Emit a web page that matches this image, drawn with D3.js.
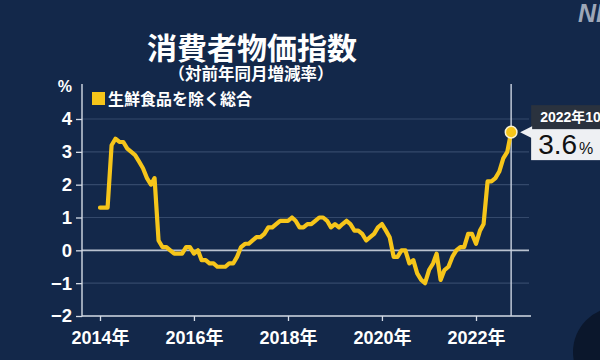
<!DOCTYPE html>
<html><head><meta charset="utf-8">
<script src="https://cdn.jsdelivr.net/npm/d3@7"></script>
<style>
html,body{margin:0;padding:0;background:#13284a;}
svg{display:block;}
text{font-family:"Liberation Sans","Noto Sans CJK JP",sans-serif;}
</style></head>
<body>
<svg id="c" width="600" height="360"></svg>
<script>
const startYear = 2014, startMonth = 1;
const values = [
 1.3,1.3,1.3,3.2,3.4,3.3,3.3,3.1,3.0,2.9,2.7,2.5,
 2.2,2.0,2.2,0.3,0.1,0.1,0.0,-0.1,-0.1,-0.1,0.1,0.1,
 -0.1,0.0,-0.3,-0.3,-0.4,-0.4,-0.5,-0.5,-0.5,-0.4,-0.4,-0.2,
 0.1,0.2,0.2,0.3,0.4,0.4,0.5,0.7,0.7,0.8,0.9,0.9,
 0.9,1.0,0.9,0.7,0.7,0.8,0.8,0.9,1.0,1.0,0.9,0.7,
 0.8,0.7,0.8,0.9,0.8,0.6,0.6,0.5,0.3,0.4,0.5,0.7,
 0.8,0.6,0.4,-0.2,-0.2,0.0,0.0,-0.4,-0.3,-0.7,-0.9,-1.0,
 -0.6,-0.4,-0.1,-0.9,-0.6,-0.5,-0.2,0.0,0.1,0.1,0.5,0.5,
 0.2,0.6,0.8,2.1,2.1,2.2,2.4,2.8,3.0,3.6
];
const yTicks = [-2,-1,0,1,2,3,4];
const xTickYears = [2014,2016,2018,2020,2022];
const titleText = "消費者物価指数";
const subtitleText = "（対前年同月増減率）";
const legendText = "生鮮食品を除く総合";
const calloutDate = "2022年10月";
const calloutValue = "3.6";

const data = values.map((v,i)=>({date:new Date(startYear, startMonth-1+i, 1), v}));
const svg = d3.select("#c");
const W=600,H=360;
svg.append("rect").attr("width",W).attr("height",H).attr("fill","#13284a");
// decorative corner circle
svg.append("circle").attr("cx",618).attr("cy",352).attr("r",45).attr("fill","#0b172c");
svg.append("text").attr("x",578).attr("y",22).attr("font-size",25).attr("font-weight","bold")
  .attr("font-style","italic").attr("fill","#9ea7b8").text("NHK");

const x = d3.scaleTime().domain([new Date(2014,0,1), new Date(2022,0,1)]).range([100,476]);
const y = d3.scaleLinear().domain([-2,4]).range([316,119]);
const left=82, right=529;

// grid
svg.append("g").selectAll("line").data(yTicks.filter(d=>d!==-2)).join("line")
  .attr("x1",left).attr("x2",right).attr("y1",d=>y(d)).attr("y2",d=>y(d))
  .attr("stroke",d=>d===0?"#b9c2cf":"#34496b").attr("stroke-width",d=>d===0?1.6:1.2);

// y axis
const yAxis = d3.axisLeft(y).tickValues(yTicks).tickSize(6).tickPadding(4).tickFormat(d3.format("d"));
const gy = svg.append("g").attr("transform",`translate(${left},0)`).call(yAxis);
gy.select(".domain").remove();
gy.selectAll(".tick line").attr("stroke","#d4dbe6").attr("stroke-width",1.3);
gy.selectAll(".tick text").attr("fill","#ffffff").attr("font-size",18.5).attr("font-weight","bold")
  .attr("font-family",'"Liberation Sans",sans-serif');
svg.append("line").attr("x1",left).attr("x2",left).attr("y1",84).attr("y2",316.5)
  .attr("stroke","#d4dbe6").attr("stroke-width",1.4);

// x axis
const xAxis = d3.axisBottom(x).tickValues(xTickYears.map(yr=>new Date(yr,0,1))).tickSize(5).tickPadding(10)
  .tickFormat(d=>d.getFullYear()+"年");
const gx = svg.append("g").attr("transform",`translate(0,${y(-2)})`).call(xAxis);
gx.select(".domain").remove();
gx.selectAll(".tick line").attr("stroke","#d4dbe6").attr("stroke-width",1.3);
gx.selectAll(".tick text").attr("fill","#ffffff").attr("font-size",18).attr("font-weight","bold")
  .attr("font-family",'"Liberation Sans","Noto Sans CJK JP",sans-serif');
svg.append("line").attr("x1",left).attr("x2",531).attr("y1",y(-2)).attr("y2",y(-2))
  .attr("stroke","#d4dbe6").attr("stroke-width",1.5);

// vertical marker line
const last = data[data.length-1];
svg.append("line").attr("x1",x(last.date)).attr("x2",x(last.date)).attr("y1",84).attr("y2",y(-2))
  .attr("stroke","#c9d1e0").attr("stroke-width",1.4);

// line
const line = d3.line().x(d=>x(d.date)).y(d=>y(d.v)).curve(d3.curveLinear);
svg.append("path").datum(data).attr("d",line).attr("fill","none")
  .attr("stroke","#f6c51a").attr("stroke-width",4.2).attr("stroke-linejoin","round").attr("stroke-linecap","round");

// point
svg.append("circle").attr("cx",x(last.date)).attr("cy",y(last.v)).attr("r",5.8)
  .attr("fill","#f6c51a").attr("stroke","#fbf3d0").attr("stroke-width",1.5);

// callout
const px=x(last.date), py=y(last.v);
svg.append("rect").attr("x",px+20).attr("y",py-27).attr("width",80).attr("height",24).attr("fill","#2a323e");
svg.append("text").attr("x",px+29).attr("y",py-10).attr("font-size",14).attr("font-weight","bold")
  .attr("fill","#ffffff").text(calloutDate);
svg.append("rect").attr("x",px+20).attr("y",py-3).attr("width",80).attr("height",31).attr("fill","#eef0f3");
svg.append("path").attr("d",`M${px+9},${py} L${px+21},${py-6} L${px+21},${py+6} Z`).attr("fill","#eef0f3");
const vt = svg.append("text").attr("x",px+27).attr("y",py+22).attr("fill","#111").attr("font-family",'"Liberation Sans",sans-serif');
vt.append("tspan").attr("font-size",28).text(calloutValue);
vt.append("tspan").attr("font-size",16).attr("dx",2).text("%");

// titles
svg.append("text").attr("x",252).attr("y",59).attr("text-anchor","middle").attr("font-size",30)
  .attr("font-weight","bold").attr("fill","#ffffff").text(titleText);
svg.append("text").attr("x",251).attr("y",80).attr("text-anchor","middle").attr("font-size",16.5)
  .attr("font-weight","bold").attr("fill","#ffffff").text(subtitleText);
svg.append("text").attr("x",72).attr("y",92).attr("text-anchor","end").attr("font-size",16)
  .attr("font-weight","bold").attr("fill","#ffffff").text("%");

// legend
svg.append("rect").attr("x",92).attr("y",92).attr("width",13).attr("height",13).attr("fill","#f6c51a");
svg.append("text").attr("x",108).attr("y",104.5).attr("font-size",16).attr("font-weight","bold")
  .attr("fill","#ffffff").text(legendText);
</script>
</body></html>
